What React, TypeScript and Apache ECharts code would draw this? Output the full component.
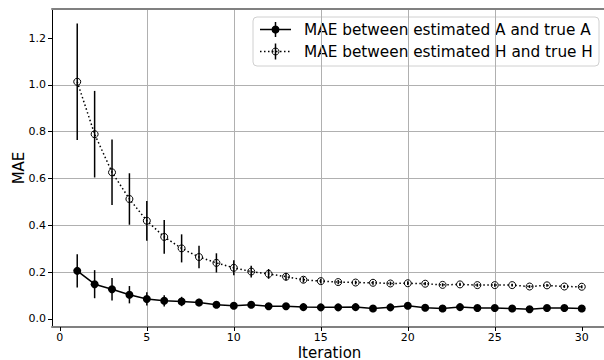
import React, { useEffect, useRef } from "react";
import * as echarts from "echarts";

const iterations = [1, 2, 3, 4, 5, 6, 7, 8, 9, 10, 11, 12, 13, 14, 15, 16, 17, 18, 19, 20, 21, 22, 23, 24, 25, 26, 27, 28, 29, 30];
const maeA = [0.205, 0.148, 0.126, 0.103, 0.085, 0.077, 0.074, 0.07, 0.06, 0.056, 0.06, 0.054, 0.054, 0.05, 0.049, 0.049, 0.05, 0.044, 0.049, 0.056, 0.047, 0.044, 0.05, 0.046, 0.046, 0.044, 0.041, 0.046, 0.046, 0.044];
const errA = [0.071, 0.06, 0.048, 0.037, 0.028, 0.024, 0.02, 0.016, 0.012, 0.011, 0.01, 0.009, 0.009, 0.008, 0.008, 0.008, 0.008, 0.007, 0.007, 0.007, 0.007, 0.007, 0.007, 0.007, 0.007, 0.006, 0.006, 0.006, 0.006, 0.006];
const maeH = [1.013, 0.789, 0.626, 0.512, 0.419, 0.35, 0.301, 0.264, 0.239, 0.218, 0.202, 0.192, 0.18, 0.167, 0.161, 0.157, 0.155, 0.154, 0.151, 0.152, 0.15, 0.145, 0.147, 0.144, 0.144, 0.144, 0.138, 0.143, 0.138, 0.137];
const errH = [0.249, 0.185, 0.14, 0.11, 0.085, 0.072, 0.06, 0.048, 0.041, 0.032, 0.025, 0.021, 0.016, 0.012, 0.01, 0.009, 0.008, 0.008, 0.008, 0.008, 0.007, 0.007, 0.007, 0.007, 0.007, 0.006, 0.006, 0.006, 0.006, 0.006];
const xTicks = [0, 5, 10, 15, 20, 25, 30];
const yTicks = [0, 0.2, 0.4, 0.6, 0.8, 1.0, 1.2];
const labelA = "MAE between estimated A and true A";
const labelH = "MAE between estimated H and true H";

const FONT = "DejaVu Sans";

export default function App() {
  const ref = useRef<HTMLDivElement>(null);
  useEffect(() => {
    document.body.style.margin = "0";
    const chart = echarts.init(ref.current!, null, { renderer: "svg" });
    const errSeries = (vals: number[], errs: number[]) =>
      iterations.map((x, i) => [x, vals[i] - errs[i], vals[i] + errs[i]]);
    const renderErr = (params: any, api: any) => {
      const x = api.value(0);
      const lo = api.coord([x, api.value(1)]);
      const hi = api.coord([x, api.value(2)]);
      return {
        type: "line",
        shape: { x1: lo[0], y1: lo[1], x2: hi[0], y2: hi[1] },
        style: { stroke: "#000", lineWidth: 1.5 },
      };
    };
    chart.setOption({
      animation: false,
      backgroundColor: "#fff",
      textStyle: { fontFamily: FONT },
      grid: { left: 52, right: -3, top: 9, bottom: 33, containLabel: false, outerBoundsMode: "none" },
      xAxis: [
        {
          type: "value",
          min: -0.45,
          max: 31.45,
          name: "Iteration",
          nameLocation: "middle",
          nameGap: 18,
          nameMoveOverlap: false,
          nameTextStyle: { fontSize: 15, color: "#000", fontFamily: FONT, lineHeight: 15 },
          axisLine: { show: true, onZero: false, lineStyle: { color: "#808080", width: 2 } },
          axisTick: { show: true, length: 4, customValues: xTicks, lineStyle: { color: "#000", width: 1 } },
          axisLabel: { customValues: xTicks, fontSize: 11, color: "#000", margin: 5, fontFamily: FONT, lineHeight: 11 },
          splitLine: { show: true, showMinLine: false, showMaxLine: false, lineStyle: { color: "#b0b0b0", width: 1 } },
        },
        {
          type: "value",
          position: "top",
          min: -0.45,
          max: 31.45,
          axisLine: { show: true, onZero: false, lineStyle: { color: "#808080", width: 2 } },
          axisTick: { show: false },
          axisLabel: { show: false },
          splitLine: { show: false },
        },
      ],
      yAxis: {
        type: "value",
        min: -0.035,
        max: 1.324,
        name: "MAE",
        nameLocation: "middle",
        nameGap: 26,
        nameMoveOverlap: false,
        nameTextStyle: { fontSize: 15, color: "#000", fontFamily: FONT },
        axisLine: { show: true, onZero: false, lineStyle: { color: "#000", width: 1 } },
        axisTick: { show: true, length: 4, customValues: yTicks, lineStyle: { color: "#000", width: 1 } },
        axisLabel: {
          customValues: yTicks,
          fontSize: 11,
          color: "#000",
          margin: 6,
          fontFamily: FONT,
          formatter: (v: number) => v.toFixed(1),
        },
        splitLine: { show: true, showMinLine: false, showMaxLine: false, lineStyle: { color: "#b0b0b0", width: 1 } },
      },
      series: [
        {
          type: "custom",
          name: "errA",
          renderItem: renderErr,
          encode: { x: 0, y: [1, 2] },
          data: errSeries(maeA, errA),
          z: 3,
        },
        {
          type: "custom",
          name: "errH",
          renderItem: renderErr,
          encode: { x: 0, y: [1, 2] },
          data: errSeries(maeH, errH),
          z: 3,
        },
        {
          type: "line",
          name: labelA,
          data: iterations.map((x, i) => [x, maeA[i]]),
          symbol: "circle",
          symbolSize: 8,
          lineStyle: { color: "#000", width: 1.5 },
          itemStyle: { color: "#000" },
          z: 4,
        },
        {
          type: "line",
          name: labelH,
          data: iterations.map((x, i) => [x, maeH[i]]),
          symbol: "circle",
          symbolSize: 7,
          lineStyle: { color: "#000", width: 1.5, type: [1.5, 2.5] },
          itemStyle: { color: "rgba(0,0,0,0)", borderColor: "#000", borderWidth: 1 },
          z: 4,
        },
      ],
      graphic: [
        {
          type: "group",
          z: 100,
          children: [
            {
              type: "rect",
              shape: { x: 253, y: 17, width: 346, height: 49, r: 4 },
              style: { fill: "rgba(255,255,255,0.85)", stroke: "#d0d0d0", lineWidth: 1 },
            },
            { type: "line", shape: { x1: 260, y1: 29.5, x2: 291, y2: 29.5 }, style: { stroke: "#000", lineWidth: 1.5 } },
            { type: "line", shape: { x1: 275.5, y1: 22, x2: 275.5, y2: 37 }, style: { stroke: "#000", lineWidth: 1.5 } },
            { type: "circle", shape: { cx: 275.5, cy: 29.5, r: 4 }, style: { fill: "#000" } },
            { type: "text", x: 304, y: 29.5, style: { text: labelA, fontSize: 15.3, fontFamily: FONT, fill: "#000", verticalAlign: "middle" } },
            { type: "line", shape: { x1: 260, y1: 51.5, x2: 291, y2: 51.5 }, style: { stroke: "#000", lineWidth: 1.5, lineDash: [1.5, 2.5] } },
            { type: "line", shape: { x1: 275.5, y1: 43.5, x2: 275.5, y2: 59.5 }, style: { stroke: "#000", lineWidth: 1.5 } },
            { type: "circle", shape: { cx: 275.5, cy: 51.5, r: 3.5 }, style: { fill: "rgba(0,0,0,0)", stroke: "#000", lineWidth: 1 } },
            { type: "text", x: 304, y: 51.5, style: { text: labelH, fontSize: 15.3, fontFamily: FONT, fill: "#000", verticalAlign: "middle" } },
          ],
        },
      ],
    });
    return () => chart.dispose();
  }, []);
  return <div ref={ref} style={{ width: 604, height: 360 }} />;
}
